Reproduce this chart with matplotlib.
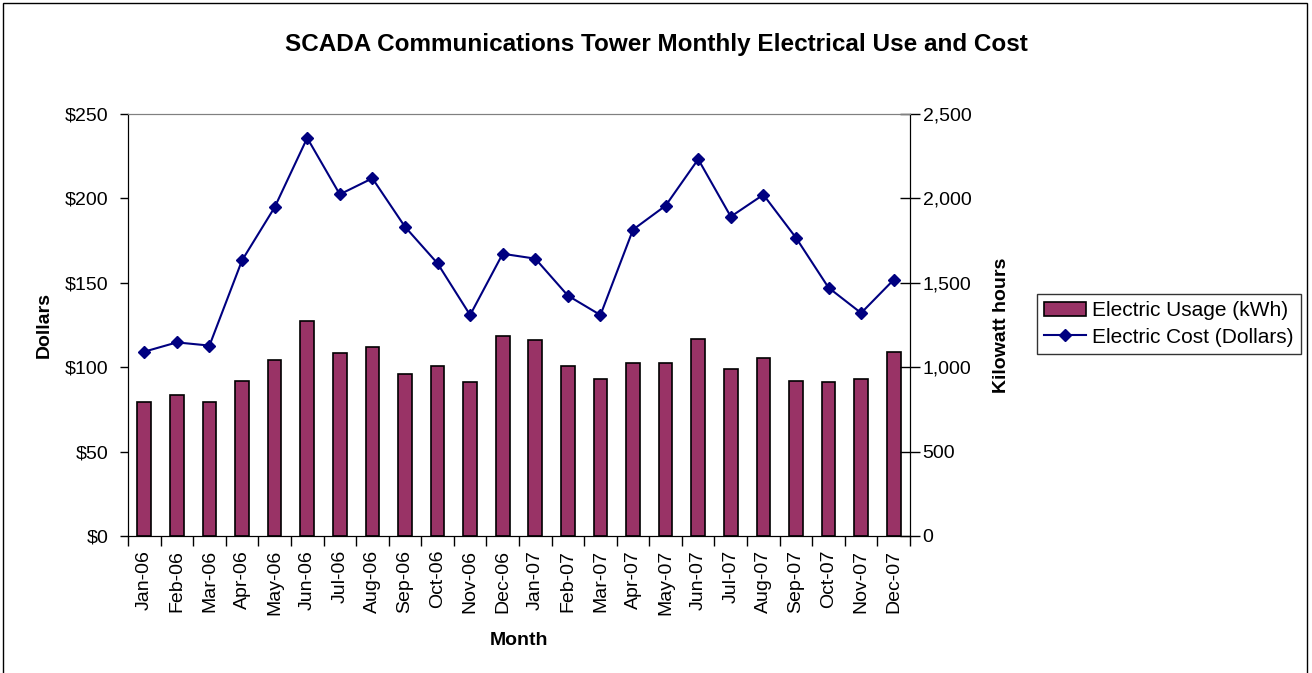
import matplotlib.pyplot as plt
import numpy as np
from matplotlib.patches import Rectangle
from matplotlib.ticker import FuncFormatter, FixedLocator

plt.rcParams['font.family'] = ['Liberation Sans', 'DejaVu Sans']

months = ["Jan-06", "Feb-06", "Mar-06", "Apr-06", "May-06", "Jun-06",
          "Jul-06", "Aug-06", "Sep-06", "Oct-06", "Nov-06", "Dec-06",
          "Jan-07", "Feb-07", "Mar-07", "Apr-07", "May-07", "Jun-07",
          "Jul-07", "Aug-07", "Sep-07", "Oct-07", "Nov-07", "Dec-07"]
usage_kwh = [796, 835, 796, 920, 1045, 1274, 1082, 1120, 960, 1007, 912, 1187,
             1159, 1007, 932, 1025, 1025, 1167, 987, 1055, 920, 910, 932, 1092]
cost_dollars = [109.2, 114.7, 112.8, 163.3, 194.7, 235.8, 202.4, 211.9, 183.2, 161.5, 130.9, 167.2,
                164.3, 142.4, 130.9, 181.5, 195.7, 223.2, 189.2, 202.2, 176.7, 147.1, 132.1, 151.8]

x = np.arange(len(months))

fig = plt.figure(figsize=(13.12, 6.73), dpi=100)
ax = fig.add_axes([128/1312, 1-536/673, (910-128)/1312, (536-114)/673])
ax2 = ax.twinx()

bars = ax2.bar(x, usage_kwh, width=0.42, color="#993366", edgecolor="black",
               linewidth=1.2, label="Electric Usage (kWh)")
line, = ax.plot(x, cost_dollars, color="#000080", marker="D", markersize=6.5,
                linewidth=1.5, label="Electric Cost (Dollars)")

# line drawn above the bars
ax.set_zorder(ax2.get_zorder() + 1)
ax.patch.set_visible(False)

ax.set_xlim(-0.5, len(months) - 0.5)
ax.set_ylim(0, 250)
ax2.set_ylim(0, 2500)
ax.set_yticks([0, 50, 100, 150, 200, 250])
ax.yaxis.set_major_formatter(FuncFormatter(lambda v, p: f"${v:,.0f}"))
ax2.set_yticks([0, 500, 1000, 1500, 2000, 2500])
ax2.yaxis.set_major_formatter(FuncFormatter(lambda v, p: f"{v:,.0f}"))

ax.set_xticks(x)
ax.set_xticklabels(months, rotation=90, fontsize=14)
ax.xaxis.set_minor_locator(FixedLocator(np.arange(-0.5, len(months), 1)))
ax.tick_params(axis="x", which="major", length=0, pad=10)
ax.tick_params(axis="x", which="minor", length=7, direction="out", width=1)
ax.tick_params(axis="y", labelsize=14, length=6, width=1, direction="out", pad=8)
ax2.tick_params(axis="y", labelsize=14, length=14, width=1, direction="inout", pad=2)

for a in (ax, ax2):
    a.spines["top"].set_color("#808080")
    a.spines["left"].set_color("black")
    a.spines["right"].set_color("black")
    a.spines["bottom"].set_color("black")

ax.set_ylabel("Dollars", fontsize=14, fontweight="bold", labelpad=9)
ax2.set_ylabel("Kilowatt hours", fontsize=14, fontweight="bold", labelpad=16)
ax.set_xlabel("Month", fontsize=14, fontweight="bold", labelpad=12)

fig.suptitle("SCADA Communications Tower Monthly Electrical Use and Cost",
             fontsize=17.5, fontweight="bold", y=1-45/673, va="center")

leg = fig.legend([bars, line], ["Electric Usage (kWh)", "Electric Cost (Dollars)"],
                 loc="center left", bbox_to_anchor=(1037/1312, 1-324/673),
                 fontsize=15, frameon=True, fancybox=False, handlelength=2.0,
                 borderpad=0.35, labelspacing=0.35, handletextpad=0.3,
                 borderaxespad=0)
leg.get_frame().set_edgecolor("black")
leg.get_frame().set_linewidth(1)

fig.patches.append(Rectangle((3/1312, -0.01), 1304/1312, 1.0 - 3/673 + 0.01,
                             transform=fig.transFigure, fill=False,
                             edgecolor="black", linewidth=1))

fig.savefig("out.png", dpi=100)
